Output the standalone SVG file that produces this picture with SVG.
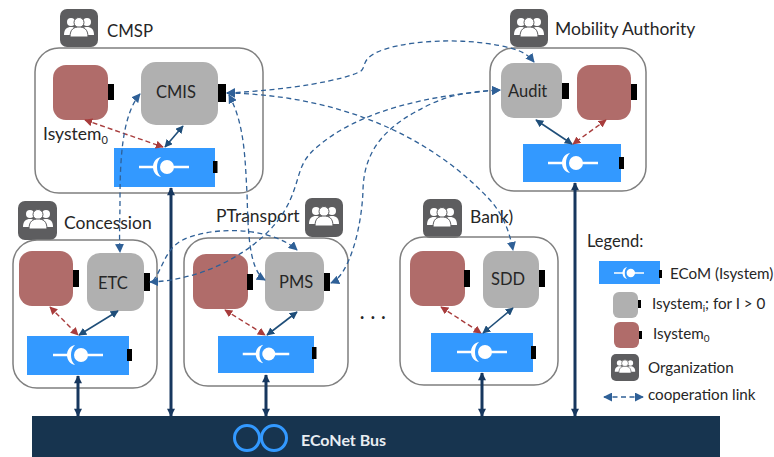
<svg xmlns="http://www.w3.org/2000/svg" width="774" height="457" viewBox="0 0 774 457">
<style>
text{font-family:Lato,"Open Sans","Liberation Sans",sans-serif;fill:#262626;font-size:17.5px}
.org{fill:none;stroke:#7f7f7f;stroke-width:1.5}
.red{fill:#b06c6a}
.gray{fill:#b0b0b0}
.eco{fill:#3399ff}
.port{fill:#000}
.ic{fill:#5d5d5f}
.lbl{font-size:16.5px}
.in{font-size:16.5px}
.leg{font-size:15.2px}
.coop{fill:none;stroke:#2f6097;stroke-width:1.3;stroke-dasharray:5 3.5;marker-start:url(#mb);marker-end:url(#mb)}
.one{marker-start:none}
.redl{fill:none;stroke:#a83c3c;stroke-width:1.4;stroke-dasharray:5 3;marker-start:url(#mr);marker-end:url(#mr)}
.dark{fill:none;stroke:#1f4e79;stroke-width:1.6;marker-start:url(#md);marker-end:url(#md)}
.bus{fill:none;stroke:#17375e;stroke-width:3;marker-start:url(#mt);marker-end:url(#mt)}
</style>
<defs>
<marker id="mb" viewBox="0 0 10 10" refX="9" refY="5" markerWidth="9" markerHeight="9" markerUnits="userSpaceOnUse" orient="auto-start-reverse"><path d="M0,0L10,5L0,10Z" fill="#2f6097"/></marker>
<marker id="mr" viewBox="0 0 10 10" refX="9" refY="5" markerWidth="8" markerHeight="8" markerUnits="userSpaceOnUse" orient="auto-start-reverse"><path d="M0,0L10,5L0,10Z" fill="#a83c3c"/></marker>
<marker id="md" viewBox="0 0 10 10" refX="9" refY="5" markerWidth="8" markerHeight="8" markerUnits="userSpaceOnUse" orient="auto-start-reverse"><path d="M0,0L10,5L0,10Z" fill="#1f4e79"/></marker>
<marker id="mt" viewBox="0 0 10 10" refX="9" refY="5" markerWidth="9" markerHeight="8" markerUnits="userSpaceOnUse" orient="auto-start-reverse"><path d="M0,0L10,5L0,10Z" fill="#17375e"/></marker>
<g id="people">
<g fill="#fff">
<circle cx="-8" cy="-6" r="4"/><circle cx="8" cy="-6" r="4"/>
<path d="M-15,7C-15,1-12,-1-8,-1C-4,-1-2,1-2,7Z"/><path d="M15,7C15,1 12,-1 8,-1C4,-1 2,1 2,7Z"/>
</g>
<circle cx="0" cy="-5.500" r="5" fill="#fff" stroke="#5d5d5f"/>
<path d="M-9,9C-9,1-5,-1 0,-1C5,-1 9,1 9,9Z" fill="#fff" stroke="#5d5d5f"/>
</g>
<g id="plug">
<path d="M-25,0H-10M3,0H25" stroke="#fff" stroke-width="2.600" fill="none"/>
<path d="M-3,-10C-8,-9-11,-5-11,0C-11,5-8,9-3,10C-6,7-7,4-7,0C-7,-4-6,-7-3,-10Z" fill="#fff"/>
<circle cx="3" cy="0" r="7" fill="#fff"/>
</g>
</defs>

<g id="cmsp">
<rect class="ic" x="60" y="9" width="38" height="38" rx="7"/><use href="#people" x="79" y="28"/>
<rect class="org" x="35" y="48" width="228" height="145" rx="24"/>
<rect class="red" x="53" y="65" width="55" height="55" rx="13"/><rect class="port" x="108" y="84" width="6" height="16"/>
<rect class="gray" x="141" y="62" width="77" height="63" rx="15"/><rect class="port" x="218" y="84" width="8" height="18"/>
<rect class="eco" x="114" y="148" width="101" height="39"/><rect class="port" x="213" y="161" width="4.500" height="12"/>
<use href="#plug" x="164" y="167"/>
<text x="107" y="37" style="font-size:16.800px">CMSP</text><text x="156" y="98" class="in">CMIS</text>
<text x="43" y="140">Isystem<tspan font-size="11" dy="4">0</tspan></text>
</g>

<g id="mobility">
<rect class="ic" x="510" y="9" width="38" height="38" rx="7"/><use href="#people" x="529" y="28"/>
<rect class="org" x="490" y="48" width="156" height="143" rx="24"/>
<rect class="gray" x="501" y="63" width="61" height="55" rx="13"/><rect class="port" x="562" y="83" width="7" height="16"/>
<rect class="red" x="577" y="65" width="54" height="55" rx="13"/><rect class="port" x="631" y="84" width="6" height="16"/>
<rect class="eco" x="523" y="144" width="98" height="38"/><rect class="port" x="619" y="157" width="5" height="12"/>
<use href="#plug" x="573" y="163"/>
<text x="555" y="35">Mobility Authority</text><text x="508" y="97" class="in">Audit</text>
</g>

<g id="concession">
<rect class="ic" x="18" y="201" width="39" height="39" rx="7"/><use href="#people" x="38" y="220"/>
<rect class="org" x="13" y="240" width="144" height="148" rx="24"/>
<rect class="red" x="19" y="251" width="54" height="55" rx="13"/><rect class="port" x="73" y="270" width="6" height="17"/>
<rect class="gray" x="87" y="253" width="57" height="58" rx="13"/><rect class="port" x="144" y="273" width="6" height="18"/>
<rect class="eco" x="27" y="336" width="102" height="39"/><rect class="port" x="127" y="349" width="5" height="12"/>
<use href="#plug" x="78" y="355"/>
<text x="64" y="229">Concession</text><text x="98" y="289" class="in">ETC</text>
</g>

<g id="ptransport">
<rect class="ic" x="305" y="198" width="38" height="39" rx="7"/><use href="#people" x="324" y="217"/>
<rect class="org" x="184" y="238" width="164" height="148" rx="24"/>
<rect class="red" x="193" y="254" width="55" height="55" rx="13"/><rect class="port" x="247" y="274" width="6" height="16"/>
<rect class="gray" x="265" y="252" width="59" height="59" rx="13"/><rect class="port" x="324" y="273" width="6" height="18"/>
<rect class="eco" x="218" y="336" width="96" height="37"/><rect class="port" x="312" y="347" width="4.500" height="12"/>
<use href="#plug" transform="translate(266 354) scale(.93)"/>
<text x="216" y="222">PTransport</text><text x="279" y="288" class="in">PMS</text>
</g>

<g id="bank">
<rect class="ic" x="423" y="199" width="39" height="39" rx="7"/><use href="#people" x="442" y="218"/>
<rect class="org" x="400" y="237" width="158" height="148" rx="24"/>
<rect class="red" x="410" y="251" width="55" height="55" rx="13"/><rect class="port" x="464" y="270" width="6" height="17"/>
<rect class="gray" x="483" y="251" width="56" height="57" rx="13"/><rect class="port" x="539" y="270" width="6" height="17"/>
<rect class="eco" x="431" y="333" width="102" height="39"/><rect class="port" x="531" y="346" width="5" height="13"/>
<use href="#plug" x="482" y="352"/>
<text x="470" y="223">Bank)</text><text x="491" y="285" class="in">SDD</text>
</g>

<g id="econet-bus">
<rect x="32" y="416" width="688" height="41" fill="#17344f"/>
<path d="M258,438H263" stroke="#3399ff" stroke-width="3"/>
<circle cx="247" cy="438" r="12.500" fill="none" stroke="#3399ff" stroke-width="3"/>
<circle cx="274" cy="438" r="12.500" fill="none" stroke="#3399ff" stroke-width="3"/>
<text x="301" y="446" style="fill:#e8edf2;font-weight:700;font-size:16px">ECoNet Bus</text>
</g>

<g id="connectors">
<path class="bus" d="M78,376V416"/><path class="bus" d="M171,188V416"/><path class="bus" d="M266,375V416"/><path class="bus" d="M482,373V416"/><path class="bus" d="M575,183V416"/>
<path class="dark" d="M183,126L165,147"/><path class="dark" d="M536,120L572,144"/><path class="dark" d="M118,311L79,335"/><path class="dark" d="M297,312L267,335"/><path class="dark" d="M513,308L483,333"/>
<path class="redl" d="M85,120L163,147"/><path class="redl" d="M606,120L573,144"/><path class="redl" d="M50,307L78,335"/><path class="redl" d="M225,310L265,335"/><path class="redl" d="M441,307L481,333"/>
<path class="coop" d="M227,93C290,90 345,80 361,71C366,66 362,62 372,55C395,40 470,35 517,50C525,53 530,57 534,62"/>
<path class="coop" d="M227,93C330,95 425,130 490,200C505,217 510,235 513,250"/>
<path class="coop" d="M229,95C245,125 245,160 247,193C248,225 248,270 265,280"/>
<path class="coop" d="M140,94C122,115 120,160 120,200C120,220 119,235 120,252"/>
<path class="coop" d="M150,282C210,280 265,245 285,210C302,180 295,165 317,147C360,110 430,95 500,90"/>
<path class="coop" d="M331,283C350,275 362,225 363,190C364,150 385,125 433,103C455,93 480,91 500,90"/>
<path class="coop one" d="M153,281C165,265 165,245 190,237C225,225 275,230 297,250"/>
</g>

<g id="ellipsis"><text x="360" y="319" style="font-size:18px;font-weight:700;letter-spacing:1px">. . .</text></g>

<g id="legend">
<text x="587" y="247" class="lbl">Legend:</text>
<rect class="eco" x="599" y="261" width="61" height="23"/><rect class="port" x="659" y="270" width="3" height="8"/>
<use href="#plug" transform="translate(629 273) scale(.6)"/>
<text x="670" y="279" class="leg">ECoM (Isystem)</text>
<rect class="gray" x="613" y="292" width="25" height="26" rx="6"/><rect class="port" x="638" y="300" width="3" height="8"/>
<text x="652" y="309" class="leg">Isystem<tspan font-size="10" dy="3">i</tspan><tspan dy="-3">; for I &gt; 0</tspan></text>
<rect class="red" x="614" y="322" width="25" height="26" rx="6"/><rect class="port" x="639" y="331" width="3" height="8"/>
<text x="653" y="339" class="leg">Isystem<tspan font-size="10" dy="3">0</tspan></text>
<rect class="ic" x="611" y="354" width="28" height="27" rx="5"/><use href="#people" transform="translate(625 367) scale(.68)"/>
<text x="648" y="373" class="leg">Organization</text>
<path class="coop" d="M604,397H643"/>
<text x="648" y="400" class="leg">cooperation link</text>
</g>
</svg>
